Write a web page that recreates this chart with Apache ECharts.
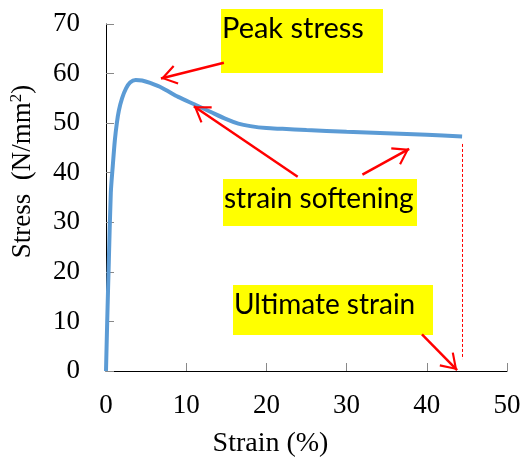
<!DOCTYPE html>
<html><head><meta charset="utf-8">
<script src="https://cdn.jsdelivr.net/npm/echarts@6/dist/echarts.min.js"></script>
<style>html,body{margin:0;padding:0;background:#fff}#c{width:524px;height:463px}</style>
</head><body><div id="c"></div>
<script>
// Stress-strain curve values
const strain = [0, 0.15, 0.35, 0.6, 0.85, 1.1, 1.35, 1.6, 2.0, 2.5, 3.0, 3.7, 4.5, 5.5, 7.0, 9.0, 11.0, 13.0, 15.0, 16.5, 18.0, 20.0, 22.0, 25.0, 30.0, 35.0, 40.0, 44.4];
const stress = [0, 10, 22, 36, 41.5, 46.5, 50, 52.5, 55, 57, 58.2, 58.7, 58.6, 58.1, 57.1, 55.3, 53.8, 52.3, 50.8, 49.9, 49.4, 49.0, 48.85, 48.6, 48.25, 47.95, 47.65, 47.3];

// Annotation arrows [fromStrain, fromStress, toStrain, toStress]
const arrows = [
  [14.7, 62.2, 6.85, 59.0],
  [23.9, 39.2, 10.95, 53.4],
  [31.97, 39.6, 37.8, 44.8],
  [39.4, 7.4, 43.78, 0.2]
];
const ultimateStrain = 44.4;
const ultimateLine = [45.8, 2.4];

const xAxisName = 'Strain (%)';
const yAxisName = 'Stress  (N/mm{sup|2})';
const notes = ['Peak stress', 'strain softening', 'Ultimate strain'];

const ARROW = 'path://M-16,0 M16,0 M0,-16 M0,16 M0,0 L10,15 L8.2,16.2 L0,3.8 L-8.2,16.2 L-10,15 Z';

const chart = echarts.init(document.getElementById('c'), null, {renderer: 'canvas'});

const markData = arrows.map(a => [
  {coord: [a[0], a[1]], symbol: 'none'},
  {coord: [a[2], a[3]], symbol: ARROW, symbolSize: 32}
]);
markData.push([
  {coord: [ultimateStrain, ultimateLine[0]], symbol: 'none', lineStyle: {type: [3, 2], width: 1}},
  {coord: [ultimateStrain, ultimateLine[1]], symbol: 'none'}
]);

function box(x, y, w, h, text, ty, fs) {
  return {
    type: 'group', x: x, y: y, silent: true,
    children: [
      {type: 'rect', shape: {x: 0, y: 0, width: w, height: h}, style: {fill: '#FFFF00'}},
      {type: 'text', x: 1, y: ty, style: {text: text, fill: '#000', font: fs + 'px Lato', textVerticalAlign: 'top'}}
    ]
  };
}

chart.setOption({
  animation: false,
  grid: {left: 105, right: 17, top: 24, bottom: 89},
  xAxis: {
    type: 'value', min: 0, max: 50, interval: 10,
    name: xAxisName, nameLocation: 'middle', nameGap: 59,
    nameTextStyle: {fontFamily: 'Liberation Serif', fontSize: 28, color: '#000', padding: [0, 72, 0, 0]},
    axisLine: {lineStyle: {color: '#000', width: 1}},
    axisTick: {inside: true, length: 8, lineStyle: {color: '#888'}},
    axisLabel: {fontFamily: 'Liberation Serif', fontSize: 27, color: '#000', margin: 21},
    splitLine: {show: false}
  },
  yAxis: {
    type: 'value', min: 0, max: 70, interval: 10,
    name: yAxisName, nameLocation: 'middle', nameGap: 68, nameRotate: 90,
    nameTextStyle: {fontFamily: 'Liberation Serif', fontSize: 27, color: '#000', padding: [0, 0, 0, 52],
      rich: {sup: {fontFamily: 'Liberation Serif', fontSize: 17, color: '#000', verticalAlign: 'top', lineHeight: 30, padding: [0, 0, 12, 0]}}},
    axisLine: {show: true, lineStyle: {color: '#000', width: 1}},
    axisTick: {show: true, inside: true, length: 8, lineStyle: {color: '#888'}},
    axisLabel: {fontFamily: 'Liberation Serif', fontSize: 27, color: '#000', margin: 26},
    splitLine: {show: false}
  },
  series: [{
    type: 'line',
    data: strain.map((s, i) => [s, stress[i]]),
    showSymbol: false, symbol: 'none',
    smooth: 0.25,
    lineStyle: {color: '#5B9BD5', width: 4},
    markLine: {
      silent: true, animation: false,
      symbol: ['none', ARROW], symbolSize: 32,
      label: {show: false},
      emphasis: {disabled: true},
      lineStyle: {color: '#FF0000', width: 2.5, type: 'solid'},
      data: markData
    }
  }],
  graphic: [
    box(221, 9, 162, 64, notes[0], 5, 29),
    box(223, 179, 194, 47, notes[1], 6, 28),
    box(233, 285, 200, 50, notes[2], 6, 28)
  ]
});
</script></body></html>
